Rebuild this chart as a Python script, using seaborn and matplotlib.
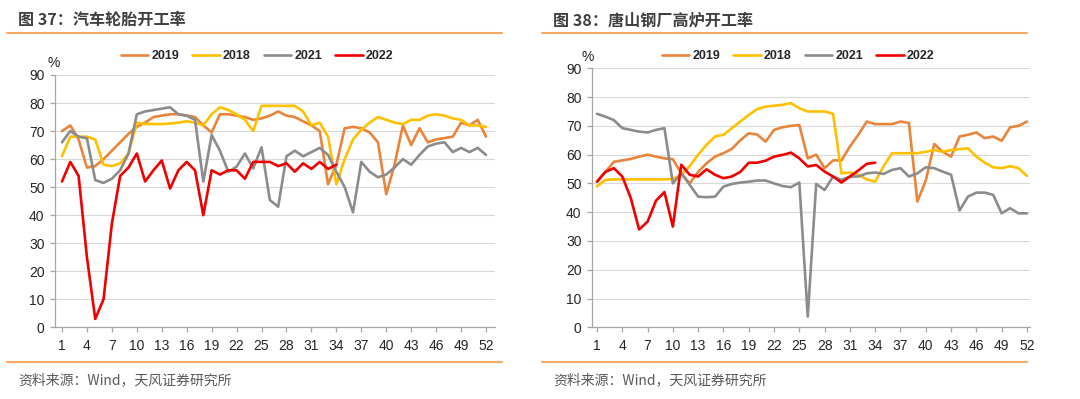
import pandas as pd
import seaborn as sns
import matplotlib.pyplot as plt
from matplotlib.lines import Line2D

# 汽车轮胎开工率 (%), weeks 1-52
tire_2019 = [70, 72, 67, 57, 57.5, 60, 63, 66, 69, 71.5,
             73, 75, 75.5, 76, 76, 75.5, 75, 72, 69.5, 76,
             76, 75.5, 75, 74, 74.5, 75.5, 77, 75.5, 75, 73.5,
             72, 70, 51, 58, 71, 71.5, 71, 69.5, 66, 47.5,
             58, 72, 65, 71, 66, 67, 67.5, 68, 73, 72,
             74, 68]
tire_2018 = [61, 68, 68, 68, 67, 58, 57.5, 58.5, 62, 73,
             72.5, 72.5, 72.5, 72.7, 73, 73.5, 73, 72, 76, 78.5,
             77.5, 76, 74, 70, 79, 79, 79, 79, 79, 77,
             72, 73, 68, 51, 60, 67, 70.5, 73, 75, 74,
             73, 72.5, 74, 74, 75.5, 76, 75.5, 74.5, 74, 72,
             72, 71.5]
tire_2021 = [66, 70, 68, 67.4, 52.5, 51.5, 53, 56, 62, 76,
             77, 77.5, 78, 78.5, 76, 75.5, 74, 52, 68.6, 63,
             55.5, 57.3, 62, 56.7, 64.2, 45.4, 43, 61, 63, 61,
             62.5, 64, 61.5, 55.5, 50, 41, 59, 55.5, 53.5, 54.5,
             57, 60, 58, 61.5, 64.5, 65.5, 66, 62.5, 64, 62.5,
             64, 61.5]
tire_2022 = [52, 59, 54, 25, 3, 10, 37, 54, 57, 62,
             52, 56, 59.5, 49.5, 56, 59, 56, 40, 56, 54.5,
             56, 56, 53, 59, 59, 59, 57.5, 58.5, 55.5, 58.5,
             56.5, 59, 56.5, 58]

# 唐山钢厂高炉开工率 (%), weeks 1-52
steel_2019 = [50.6, 54, 57.5, 58, 58.5, 59.3, 60, 59.3, 58.7, 58.4,
              53.5, 50, 54, 57, 59.3, 60.5, 62, 65, 67.4, 67,
              64.5, 68.6, 69.5, 70, 70.3, 58.7, 60, 55.3, 58, 58,
              62.8, 66.9, 71.5, 70.6, 70.6, 70.6, 71.5, 71, 43.7, 51,
              63.7, 61, 59.3, 66.3, 66.9, 67.7, 65.7, 66.3, 64.8, 69.5,
              70, 71.5]
steel_2018 = [49, 51.2, 51.4, 51.4, 51.4, 51.4, 51.4, 51.4, 51.4, 51.6,
              53, 56, 60, 63.4, 66.3, 66.9, 69.2, 71.5, 73.8, 75.8,
              76.7, 77, 77.3, 77.9, 76.1, 75, 75, 75, 74.2, 53.5,
              53.8, 53, 51.4, 50.6, 56, 60.5, 60.5, 60.5, 60.5, 61,
              61.6, 61, 61.6, 61.9, 62.2, 59.3, 57.2, 55.6, 55.3, 56,
              55.3, 52.6]
steel_2021 = [74.2, 73.2, 72, 69.2, 68.6, 68, 67.7, 68.6, 69.2, 50,
              53.5, 49.5, 45.4, 45.2, 45.4, 48.9, 49.8, 50.3, 50.6, 51,
              51, 50, 49.1, 48.7, 50.3, 3.7, 49.8, 47.7, 52.4, 51.2,
              52.4, 52.4, 53.5, 53.8, 53.3, 54.7, 55.3, 52.4, 53.5, 55.6,
              55.3, 54.1, 53, 40.6, 45.4, 46.8, 46.8, 46, 39.6, 41.4,
              39.6, 39.6]
steel_2022 = [50.6, 54, 55.3, 52.4, 45, 34, 36.7, 44, 47, 35,
              56.5, 53, 52.4, 54.9, 53, 51.8, 52.4, 54, 57.2, 57.2,
              57.9, 59.3, 59.9, 60.7, 58.7, 55.9, 56.4, 54.1, 52.4, 50.3,
              52.4, 54.5, 56.8, 57.2]

years = ['2019', '2018', '2021', '2022']
colors = {'2019': '#E9843A', '2018': '#FFC000', '2021': '#8C8C8C', '2022': '#F00000'}
week_ticks = list(range(1, 53, 3))


def to_long(series):
    rows = []
    for year, vals in zip(years, series):
        for i, v in enumerate(vals):
            rows.append({'week': i + 1, 'value': v, 'year': year})
    return pd.DataFrame(rows)


sns.set_theme(style='white')
plt.rcParams['font.family'] = ['Liberation Sans', 'Noto Sans CJK SC', 'DejaVu Sans']

fig = plt.figure(figsize=(10.8, 3.99), dpi=100)
W, H = 1080, 399

panels = [
    dict(data=to_long([tire_2019, tire_2018, tire_2021, tire_2022]),
         rect=[55 / W, 1 - 327.3 / H, 440 / W, 252.3 / H], xlim=(0.16, 53.08),
         title='图 37：汽车轮胎开工率', tx=18, rule=(7, 502),
         leg=(257, 56), pct=(54, 63)),
    dict(data=to_long([steel_2019, steel_2018, steel_2021, steel_2022]),
         rect=[592 / W, 1 - 327.3 / H, 438 / W, 259 / H], xlim=(0.41, 52.36),
         title='图 38：唐山钢厂高炉开工率', tx=553, rule=(542, 1027),
         leg=(798, 56), pct=(588, 57)),
]

for p in panels:
    ax = fig.add_axes(p['rect'])
    sns.lineplot(data=p['data'], x='week', y='value', hue='year', hue_order=years,
                 palette=colors, lw=1.9, ax=ax)
    ax.set_xlim(*p['xlim'])
    ax.set_ylim(0, 90)
    ax.set_xticks(week_ticks)
    ax.set_yticks(range(0, 91, 10))
    ax.set_xlabel('')
    ax.set_ylabel('')
    ax.grid(axis='y', color='#D9D9D9', lw=0.8)
    ax.set_axisbelow(True)
    for s in ['top', 'right']:
        ax.spines[s].set_visible(False)
    for s in ['left', 'bottom']:
        ax.spines[s].set_color('#A6A6A6')
        ax.spines[s].set_linewidth(0.9)
    ax.tick_params(axis='both', labelsize=10, colors='#A6A6A6', labelcolor='#262626',
                   length=3.5, width=0.9, direction='out')
    ax.tick_params(axis='x', pad=5)
    ax.tick_params(axis='y', pad=4)
    ax.tick_params(axis='both', which='both', bottom=True, left=True)

    sns.move_legend(ax, 'center', bbox_to_anchor=(p['leg'][0] / W, 1 - p['leg'][1] / H),
                    bbox_transform=fig.transFigure, ncol=4, frameon=False, title=None,
                    handlelength=2.2, handletextpad=0.25, columnspacing=1.05,
                    prop={'weight': 'bold', 'size': 9})

    fig.text(p['pct'][0] / W, 1 - p['pct'][1] / H, '%', ha='center', va='center',
             fontsize=10, color='#262626')

    # 标题和分隔线
    fig.text(p['tx'] / W, 1 - 20 / H, p['title'], ha='left', va='center',
             fontsize=11.6, fontweight='bold', color='#404040',
             family=['Noto Sans CJK SC', 'DejaVu Sans'])
    fig.add_artist(Line2D([p['rule'][0] / W, p['rule'][1] / W], [1 - 33 / H, 1 - 33 / H],
                          transform=fig.transFigure, color='#F8A863', lw=1.5))
    fig.add_artist(Line2D([p['rule'][0] / W, p['rule'][1] / W], [1 - 362 / H, 1 - 362 / H],
                          transform=fig.transFigure, color='#F8A863', lw=1.5))
    fig.text(p['tx'] / W, 1 - 380 / H, '资料来源：Wind，天风证券研究所', ha='left', va='center',
             fontsize=10, color='#595959', family=['Noto Sans CJK SC', 'DejaVu Sans'])

fig.savefig('out.png', dpi=100)
